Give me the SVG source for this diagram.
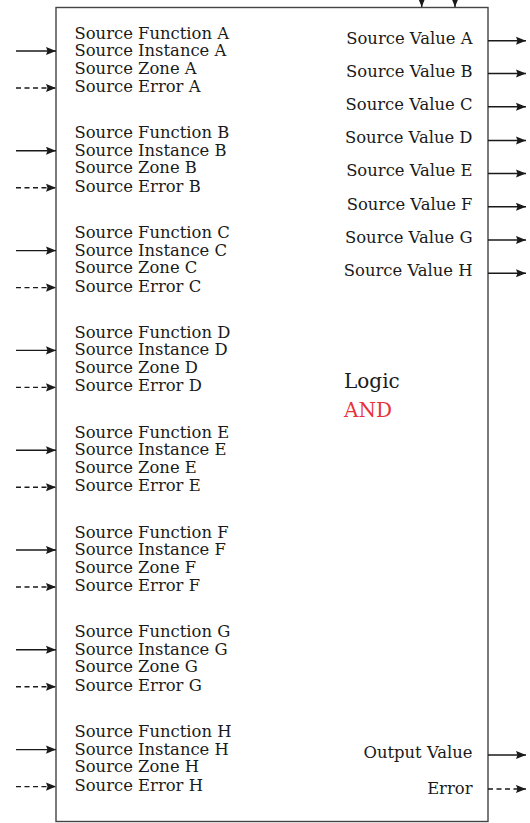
<svg xmlns="http://www.w3.org/2000/svg" width="530" height="823" viewBox="0 0 530 823">
<style>
  text { font-family: "DejaVu Serif", "Liberation Serif", serif; font-size: 16.4px; fill: #1a1a1a; }
  .r { text-anchor: end; }
  .big { font-size: 20px; }
  .red { fill: #e8333a; }
  .ln { stroke: #1a1a1a; stroke-width: 1.4; fill: none; }
  .sol { marker-end: url(#ah); }
  .dsh { stroke-dasharray: 5 3.5; marker-end: url(#ah); }
</style>
<defs>
  <marker id="ah" viewBox="0 0 10 10" refX="10" refY="5" markerWidth="10" markerHeight="9" markerUnits="userSpaceOnUse" orient="auto" preserveAspectRatio="none">
    <path d="M0,0.5 L10,5 L0,9.5 L1.5,5 Z" fill="#1a1a1a"/>
  </marker>
</defs>
<rect width="530" height="823" fill="#fff"/>
<g id="block">
  <rect x="56" y="7.5" width="432" height="814" fill="none" stroke="#444" stroke-width="1.4"/>
  <text class="big" x="344" y="388">Logic</text>
  <text class="big red" x="344" y="416.5">AND</text>
</g>
<g id="inputs">
  <g id="in-A"><text x="74.5" y="38.5">Source Function A</text><text x="74.5" y="56">Source Instance A</text><text x="74.5" y="73.5">Source Zone A</text><text x="74.5" y="92">Source Error A</text></g>
  <g id="in-B"><text x="74.5" y="138.3">Source Function B</text><text x="74.5" y="155.8">Source Instance B</text><text x="74.5" y="173.3">Source Zone B</text><text x="74.5" y="191.8">Source Error B</text></g>
  <g id="in-C"><text x="74.5" y="238.1">Source Function C</text><text x="74.5" y="255.6">Source Instance C</text><text x="74.5" y="273.1">Source Zone C</text><text x="74.5" y="291.6">Source Error C</text></g>
  <g id="in-D"><text x="74.5" y="337.9">Source Function D</text><text x="74.5" y="355.4">Source Instance D</text><text x="74.5" y="372.9">Source Zone D</text><text x="74.5" y="391.4">Source Error D</text></g>
  <g id="in-E"><text x="74.5" y="437.7">Source Function E</text><text x="74.5" y="455.2">Source Instance E</text><text x="74.5" y="472.7">Source Zone E</text><text x="74.5" y="491.2">Source Error E</text></g>
  <g id="in-F"><text x="74.5" y="537.5">Source Function F</text><text x="74.5" y="555">Source Instance F</text><text x="74.5" y="572.5">Source Zone F</text><text x="74.5" y="591">Source Error F</text></g>
  <g id="in-G"><text x="74.5" y="637.3">Source Function G</text><text x="74.5" y="654.8">Source Instance G</text><text x="74.5" y="672.3">Source Zone G</text><text x="74.5" y="690.8">Source Error G</text></g>
  <g id="in-H"><text x="74.5" y="737.1">Source Function H</text><text x="74.5" y="754.6">Source Instance H</text><text x="74.5" y="772.1">Source Zone H</text><text x="74.5" y="790.6">Source Error H</text></g>
</g>
<g id="outputs">
  <text class="r" x="472.5" y="43.5">Source Value A</text>
  <text class="r" x="472.5" y="76.5">Source Value B</text>
  <text class="r" x="472.5" y="109.5">Source Value C</text>
  <text class="r" x="472.5" y="143">Source Value D</text>
  <text class="r" x="472.5" y="176">Source Value E</text>
  <text class="r" x="472.5" y="209.5">Source Value F</text>
  <text class="r" x="472.5" y="242.5">Source Value G</text>
  <text class="r" x="472.5" y="276">Source Value H</text>
  <text class="r" x="472.5" y="757.5">Output Value</text>
  <text class="r" x="472.5" y="793.5">Error</text>
</g>
<g id="connectors">
  <path class="ln sol" d="M16,51 H56"/><path class="ln dsh" d="M16,88 H56"/>
  <path class="ln sol" d="M16,150.8 H56"/><path class="ln dsh" d="M16,187.8 H56"/>
  <path class="ln sol" d="M16,250.6 H56"/><path class="ln dsh" d="M16,287.6 H56"/>
  <path class="ln sol" d="M16,350.4 H56"/><path class="ln dsh" d="M16,387.4 H56"/>
  <path class="ln sol" d="M16,450.2 H56"/><path class="ln dsh" d="M16,487.2 H56"/>
  <path class="ln sol" d="M16,550 H56"/><path class="ln dsh" d="M16,587 H56"/>
  <path class="ln sol" d="M16,649.8 H56"/><path class="ln dsh" d="M16,686.8 H56"/>
  <path class="ln sol" d="M16,749.6 H56"/><path class="ln dsh" d="M16,786.6 H56"/>
  <path class="ln sol" d="M488,40.7 H526"/>
  <path class="ln sol" d="M488,73.5 H526"/>
  <path class="ln sol" d="M488,106.7 H526"/>
  <path class="ln sol" d="M488,140.5 H526"/>
  <path class="ln sol" d="M488,173.5 H526"/>
  <path class="ln sol" d="M488,206.7 H526"/>
  <path class="ln sol" d="M488,240 H526"/>
  <path class="ln sol" d="M488,273.3 H526"/>
  <path class="ln sol" d="M488,755 H526"/>
  <path class="ln dsh" d="M488,789 H526"/>
  <path class="ln sol" d="M421.7,-10 V7"/>
  <path class="ln sol" d="M455,-10 V7"/>
</g>
</svg>
